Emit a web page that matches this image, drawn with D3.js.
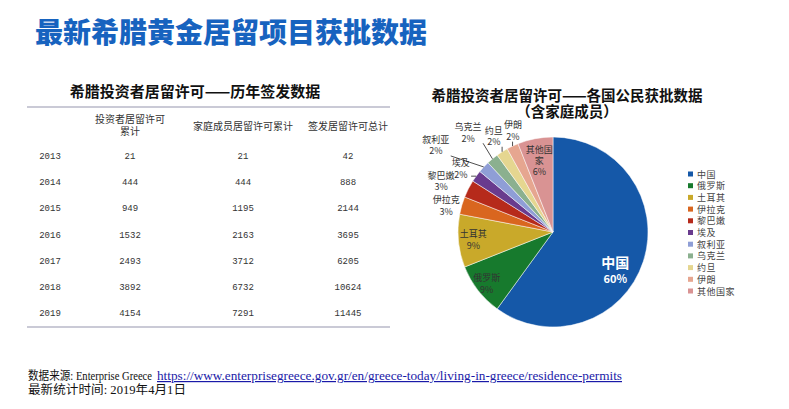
<!DOCTYPE html>
<html>
<head>
<meta charset="utf-8">
<script src="https://cdn.jsdelivr.net/npm/d3@7"></script>
<style>
body { margin: 0; background: #fff; }
</style>
</head>
<body>
<svg id="chart" width="789" height="409"></svg>
<script>
// table data
const years = [2013, 2014, 2015, 2016, 2017, 2018, 2019];
const investorPermits = [21, 444, 949, 1532, 2493, 3892, 4154];
const familyPermits = [21, 444, 1195, 2163, 3712, 6732, 7291];
const totalPermits = [42, 888, 2144, 3695, 6205, 10624, 11445];
const tableHeaders = [[""], ["投资者居留许可", "累计"], ["家庭成员居留许可累计"], ["签发居留许可总计"]];

// pie data
const countries = ["中国", "俄罗斯", "土耳其", "伊拉克", "黎巴嫩", "埃及", "叙利亚", "乌克兰", "约旦", "伊朗", "其他国家"];
const shares = [60, 9, 9, 3, 3, 2, 2, 2, 2, 2, 6];
const countryColors = ["#1558a8", "#177a2d", "#c9a92a", "#d9661f", "#b62a1b", "#693b8e", "#8f9ed6", "#8bb08f", "#e5d690", "#e6a690", "#d99393"];

const svg = d3.select("#chart");

// main title
svg.append("text")
    .attr("x", 35).attr("y", 31)
    .attr("dominant-baseline", "central")
    .style("font-family", "'Noto Sans CJK SC'")
    .style("font-weight", 900)
    .style("font-size", "28px")
    .attr("fill", "#1763bf")
    .text("最新希腊黄金居留项目获批数据");

// ---------- table ----------
let table = svg.append("g");

table.append("text")
    .attr("x", 195).attr("y", 90)
    .attr("text-anchor", "middle").attr("dominant-baseline", "central")
    .style("font-family", "'Noto Sans CJK SC'")
    .style("font-weight", 700).style("font-size", "15px")
    .attr("fill", "#111")
    .text("希腊投资者居留许可——历年签发数据");

let colX = d3.scaleOrdinal().domain([0, 1, 2, 3]).range([50, 130, 243, 348]);
let rowY = d3.scalePoint().domain(years).range([157, 314]);

table.selectAll(".rule")
    .data([107, 327])
    .enter().append("line")
    .attr("x1", 27).attr("x2", 390)
    .attr("y1", d => d).attr("y2", d => d)
    .attr("stroke", "#b9b9c9").attr("stroke-width", 1.5);

tableHeaders.forEach((lines, i) => {
    let y0 = lines.length > 1 ? 118 : 125;
    lines.forEach((s, k) => {
        table.append("text")
            .attr("x", colX(i))
            .attr("y", y0 + k * 12)
            .attr("text-anchor", "middle").attr("dominant-baseline", "central")
            .style("font-family", "'Noto Sans CJK SC'")
            .style("font-size", "10px")
            .attr("fill", "#333")
            .text(s);
    });
});

let rows = years.map((y, i) => [y, investorPermits[i], familyPermits[i], totalPermits[i]]);
rows.forEach((r, i) => {
    table.selectAll(".cell" + i)
        .data(r)
        .enter().append("text")
        .attr("x", (d, j) => colX(j))
        .attr("y", rowY(years[i]))
        .attr("text-anchor", "middle").attr("dominant-baseline", "central")
        .style("font-family", "'Liberation Mono'")
        .style("font-size", "9px")
        .attr("fill", "#333")
        .text(d => d);
});

// ---------- pie ----------
const cx = 553, cy = 232, radius = 95;

["希腊投资者居留许可——各国公民获批数据", "（含家庭成员）"].forEach((s, i) => {
    svg.append("text")
        .attr("x", 567).attr("y", 94 + i * 16)
        .attr("text-anchor", "middle").attr("dominant-baseline", "central")
        .style("font-family", "'Noto Sans CJK SC'")
        .style("font-weight", 700).style("font-size", "14.5px")
        .attr("fill", "#111")
        .text(s);
});

let pie = d3.pie().sort(null).value(d => d);
let arcs = pie(shares);
let arc = d3.arc().innerRadius(0).outerRadius(radius);
let color = d3.scaleOrdinal().domain(countries).range(countryColors);

let pieG = svg.append("g").attr("transform", `translate(${cx},${cy})`);

pieG.selectAll("path")
    .data(arcs)
    .enter().append("path")
    .attr("d", arc)
    .attr("fill", (d, i) => color(countries[i]))
    .attr("stroke", "#fff").attr("stroke-width", 0.5);

// label placement: radius and angle shift (degrees) per slice
const labelPlace = [
    { r: 73, shift: 13.5, inside: true },
    { r: 84, shift: 0, inside: true },
    { r: 80, shift: 0, inside: true },
    { r: 110, shift: -2.3, leader: false },
    { r: 123, shift: -2.5, leader: false },
    { r: 112, shift: -1.4, leader: true },
    { r: 146, shift: -6.6, leader: true },
    { r: 131, shift: -0.8, leader: true },
    { r: 113, shift: 0.8, leader: true },
    { r: 109, shift: 3.6, leader: true },
    { r: 73, shift: 0, inside: true }
];

function polar(a, r) {
    return [r * Math.sin(a), -r * Math.cos(a)];
}

arcs.forEach((d, i) => {
    let mid = (d.startAngle + d.endAngle) / 2;
    let p = labelPlace[i];
    let pos = polar(mid + p.shift * Math.PI / 180, p.r);
    let name = countries[i];
    let lines = name === "其他国家" ? ["其他国", "家", d.data + "%"] : [name, d.data + "%"];
    let isChina = i === 0;
    let lh = isChina ? 16 : (lines.length === 3 ? 11 : 11.5);
    let y0 = pos[1] - (lines.length - 1) * lh / 2;

    if (p.leader) {
        let w = name.length * 9.3 / 2 + 1;
        let edge = polar(mid, radius);
        let sx = Math.max(pos[0] - w, Math.min(pos[0] + w, edge[0]));
        let sy = Math.max(pos[1] - 11, Math.min(pos[1] + 11, edge[1]));
        pieG.append("line")
            .attr("x1", sx).attr("y1", sy)
            .attr("x2", edge[0]).attr("y2", edge[1])
            .attr("stroke", "#222").attr("stroke-width", 0.8);
    }

    lines.forEach((s, k) => {
        pieG.append("text")
            .attr("x", pos[0])
            .attr("y", y0 + k * lh)
            .attr("text-anchor", "middle").attr("dominant-baseline", "central")
            .style("font-family", "'Noto Sans CJK SC'")
            .style("font-size", isChina ? (k === 0 ? "14px" : "11px") : "9px")
            .style("font-weight", isChina ? 700 : 400)
            .attr("fill", isChina ? "#fff" : "#333")
            .text(s);
    });
});

// legend
let legendY = d3.scalePoint().domain(countries).range([174, 291]);
let legend = svg.append("g");
legend.selectAll("rect")
    .data(countries)
    .enter().append("rect")
    .attr("x", 688).attr("y", d => legendY(d) - 2.5)
    .attr("width", 5).attr("height", 5)
    .attr("fill", d => color(d));
legend.selectAll("text")
    .data(countries)
    .enter().append("text")
    .attr("x", 697).attr("y", d => legendY(d))
    .attr("dominant-baseline", "central")
    .style("font-family", "'Noto Sans CJK SC'")
    .style("font-size", "9px")
    .style("letter-spacing", "0.5px")
    .attr("fill", "#444")
    .text(d => d);

// footer
let foot = svg.append("g")
    .style("font-family", "'Liberation Serif', 'Noto Sans CJK SC'")
    .style("font-size", "12px")
    .attr("fill", "#111");
foot.append("text").attr("x", 28).attr("y", 380)
    .attr("textLength", 124).attr("lengthAdjust", "spacingAndGlyphs")
    .text("数据来源: Enterprise Greece");
foot.append("text").attr("x", 157).attr("y", 380)
    .attr("textLength", 465).attr("lengthAdjust", "spacingAndGlyphs")
    .attr("fill", "#1a1aa8")
    .style("text-decoration", "underline")
    .text("https://www.enterprisegreece.gov.gr/en/greece-today/living-in-greece/residence-permits");
foot.append("text").attr("x", 28).attr("y", 394)
    .attr("textLength", 158).attr("lengthAdjust", "spacingAndGlyphs")
    .text("最新统计时间: 2019年4月1日");
</script>
</body>
</html>
